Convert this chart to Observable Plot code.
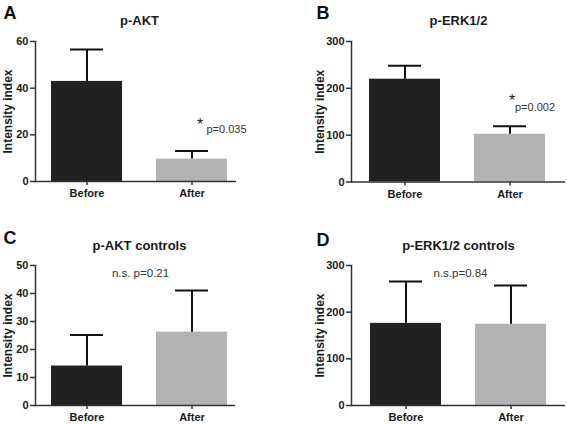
<!DOCTYPE html>
<html>
<head>
<meta charset="utf-8">
<script src="https://cdn.jsdelivr.net/npm/d3@7"></script>
<script src="https://cdn.jsdelivr.net/npm/@observablehq/plot@0.6"></script>
<style>
  html, body { margin: 0; padding: 0; background: #fff; }
  #grid { display: grid; grid-template-columns: 283px 284px; grid-template-rows: 212px 212px; width: 567px; height: 424px; }
  #grid > svg, #grid > figure { margin: 0; }
</style>
</head>
<body>
<div id="grid"></div>
<script>
// ---- data ----
const groups = ["Before", "After"];
const panelLetters = ["A", "B", "C", "D"];
const panelTitles = ["p-AKT", "p-ERK1/2", "p-AKT controls", "p-ERK1/2 controls"];
const meansA = [42.9, 9.6];
const errA = [56.6, 13.1];
const meansB = [219.5, 102];
const errB = [248, 119];
const meansC = [14.1, 26.2];
const errC = [25.2, 41.1];
const meansD = [176, 174];
const errD = [265.7, 257];
const ticksA = [0, 20, 40, 60];
const ticksB = [0, 100, 200, 300];
const ticksC = [0, 10, 20, 30, 40, 50];
const ticksD = [0, 100, 200, 300];
const yLabel = "Intensity index";
const starNotes = ["*", "*", null, null];
const pNotes = ["p=0.035", "p=0.002", "n.s. p=0.21", "n.s.p=0.84"];

const FONT = "'Liberation Sans', Arial, Helvetica, sans-serif";

const means = [meansA, meansB, meansC, meansD];
const errs = [errA, errB, errC, errD];
const ticks = [ticksA, ticksB, ticksC, ticksD];

// layout (styles only)
const layouts = [
  {w: 283, ml: 35, mr: 47, mt: 41, mb: 31, il: 16, ir: 8, letterDx: -32, letterDy: -28.5, titleDx: 3.5, titleDy: -21, labelDx: -27.5,
   starDx: 8, starDy: -26, pDx: 14.5, pDy: -21},
  {w: 284, ml: 68, mr: 2, mt: 41, mb: 30.5, il: 18, ir: 19, letterDx: -35, letterDy: -28.5, titleDx: 0, titleDy: -21, labelDx: -31,
   starDx: 2, starDy: -25, pDx: 5, pDy: -19},
  {w: 283, ml: 35, mr: 48, mt: 53, mb: 19, il: 16, ir: 7, letterDx: -32, letterDy: -27, titleDx: 4, titleDy: -20, labelDx: -27,
   pDx: 5, pDy: 8},
  {w: 284, ml: 68, mr: 2, mt: 53, mb: 19, il: 19, ir: 18, letterDx: -35, letterDy: -25.5, titleDx: 0, titleDy: -20, labelDx: -31,
   pDx: 2, pDy: 8}
];

const grid = document.getElementById("grid");

panelLetters.forEach((letter, i) => {
  const L = layouts[i];
  const data = groups.map((g, j) => ({group: g, mean: means[i][j], err: errs[i][j]}));
  const after = data.filter(d => d.group === "After");
  const noteMarks = starNotes[i]
    ? [
        Plot.text(after, {x: "group", y: "err", text: () => starNotes[i], dx: L.starDx, dy: L.starDy, fontSize: 16, fill: "#222", textAnchor: "middle", lineAnchor: "middle"}),
        Plot.text(after, {x: "group", y: "err", text: () => pNotes[i], dx: L.pDx, dy: L.pDy, fontSize: 11, fill: "#333", textAnchor: "start", lineAnchor: "middle"})
      ]
    : [
        Plot.text([pNotes[i]], {frameAnchor: "top", dx: L.pDx, dy: L.pDy, fontSize: 11.5, fill: "#333", lineAnchor: "middle"})
      ];

  const chart = Plot.plot({
    width: L.w,
    height: 212,
    marginLeft: L.ml,
    marginRight: L.mr,
    marginTop: L.mt,
    marginBottom: L.mb,
    style: {fontFamily: FONT, background: "#fff", overflow: "visible"},
    x: {domain: groups, paddingInner: 0.32, paddingOuter: 0, insetLeft: L.il, insetRight: L.ir, label: null},
    y: {domain: [ticks[i][0], ticks[i][ticks[i].length - 1]], label: null},
    color: {domain: groups, range: ["#212121", "#b3b3b3"]},
    marks: [
      Plot.barY(data, {x: "group", y: "mean", fill: "group"}),
      Plot.ruleX(data, {x: "group", y1: "mean", y2: "err", stroke: "#111", strokeWidth: 2}),
      Plot.tickY(data, {x: "group", y: "err", stroke: "#111", strokeWidth: 2, insetLeft: 19, insetRight: 19}),
      Plot.ruleY([0], {stroke: "#333", strokeWidth: 1.5}),
      Plot.frame({anchor: "left", stroke: "#333", strokeWidth: 1.5}),
      Plot.axisY({ticks: ticks[i], tickSize: 5, tickPadding: 2, fontSize: 11, fontWeight: "bold", fill: "#1a1a1a", stroke: "#333", strokeWidth: 1.5, label: null}),
      Plot.axisX({tickSize: 4, tickPadding: 4, fontSize: 11, fontWeight: "bold", fill: "#1a1a1a", stroke: "#333", strokeWidth: 1.5, label: null}),
      Plot.text([yLabel], {frameAnchor: "left", rotate: -90, dx: L.labelDx, fontSize: 12, fontWeight: "bold", fill: "#1a1a1a", textAnchor: "middle", lineAnchor: "middle"}),
      Plot.text([panelTitles[i]], {frameAnchor: "top", dx: L.titleDx, dy: L.titleDy, fontSize: 13, fontWeight: "bold", fill: "#1a1a1a", lineAnchor: "middle"}),
      Plot.text([letter], {frameAnchor: "top-left", dx: L.letterDx, dy: L.letterDy, fontSize: 18, fontWeight: "bold", fill: "#111", textAnchor: "start", lineAnchor: "middle"}),
      ...noteMarks
    ]
  });
  grid.appendChild(chart);
});
</script>
</body>
</html>
